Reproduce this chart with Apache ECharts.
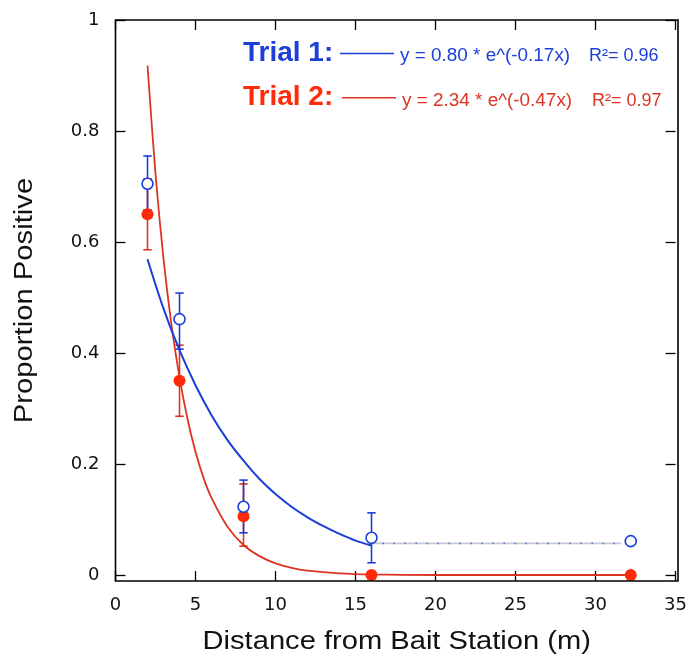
<!DOCTYPE html>
<html><head><meta charset="utf-8">
<script src="https://cdn.jsdelivr.net/npm/echarts@6/dist/echarts.min.js"></script>
<style>html,body{margin:0;padding:0;background:#fff}#c{width:690px;height:659px}</style>
</head><body><div id="c"></div>
<script>
// ---- data ----
const distances  = [2, 4, 8, 16, 32.2];
const trial1Mean = [0.705, 0.461, 0.123, 0.067, 0.061];
const trial1Low  = [0.658, 0.407, 0.076, 0.022, null];
const trial1High = [0.755, 0.508, 0.171, 0.112, null];
const trial2Mean = [0.650, 0.350, 0.106, 0.000, 0.000];
const trial2Low  = [0.586, 0.286, 0.052, null, null];
const trial2High = [0.714, 0.414, 0.164, null, null];

// fitted curves, sampled from the drawn lines
const fit1X = [2, 3, 4, 5, 6, 7, 8, 9, 10, 11, 12, 13, 14, 15, 16];
const fit1Y = [0.569, 0.480, 0.405, 0.342, 0.288, 0.243, 0.206, 0.173, 0.146, 0.123, 0.104, 0.088, 0.074, 0.062, 0.053];
const fit2X = [2, 2.5, 3, 3.5, 4, 4.5, 5, 5.5, 6, 7, 8, 9, 10, 11, 12, 14, 16, 20, 25, 32.2];
const fit2Y = [0.918, 0.723, 0.570, 0.450, 0.356, 0.281, 0.222, 0.175, 0.139, 0.087, 0.054, 0.034, 0.021, 0.013, 0.008, 0.003, 0.001, 0.000, 0.000, 0.000];
const plateau1X = [16, 31.6];
const plateau1Y = [0.057, 0.057];

const legendTrials = ['Trial 1:', 'Trial 2:'];
const legendEquations = ['y = 0.80 * e^(-0.17x)', 'y = 2.34 * e^(-0.47x)'];
const legendR2 = ['R\u00B2= 0.96', 'R\u00B2= 0.97'];
const xTitle = 'Distance from Bait Station (m)';
const yTitle = 'Proportion Positive';

const xMin = 0, xMax = 35, xStep = 5;
const yMin = 0, yMax = 1, yStep = 0.2;

// ---- styling ----
const BLUE = '#1a3fd6', BLUE_T = '#1c3fd8';
const RED = '#dc3524', RED_T = '#ff2a08', RED_DOT = '#ff2a0a';
const FONT = '"Liberation Sans", Arial, Helvetica, sans-serif';
const TICKFONT = '"DejaVu Sans", "Liberation Sans", sans-serif';

const zip = (a, b) => a.map((v, i) => [v, b[i]]);
const errData = (lo, hi) => distances.map((d, i) => [d, lo[i], hi[i]]).filter(r => r[1] != null);

function errRender(color, half) {
  return function (params, api) {
    const x = api.value(0), lo = api.value(1), hi = api.value(2);
    const a = api.coord([x, lo]), b = api.coord([x, hi]);
    const st = { stroke: color, lineWidth: 1.6 };
    return { type: 'group', children: [
      { type: 'line', shape: { x1: a[0], y1: a[1], x2: b[0], y2: b[1] }, style: st },
      { type: 'line', shape: { x1: a[0] - half, y1: a[1], x2: a[0] + half, y2: a[1] }, style: st },
      { type: 'line', shape: { x1: b[0] - half, y1: b[1], x2: b[0] + half, y2: b[1] }, style: st }
    ]};
  };
}

const GL = 115.5, GT = 20, GR = 678, GB = 575, FRAME_B = 581;

const tickStyle = { color: '#000', width: 1.3 };
const hiddenLine = { show: false, onZero: false };
const chart = echarts.init(document.getElementById('c'), null, { renderer: 'canvas' });
chart.setOption({
  backgroundColor: '#fff',
  animation: false,
  grid: { left: GL, top: GT, right: 690 - GR, bottom: 659 - GB, containLabel: false },
  xAxis: [
    { type: 'value', min: xMin, max: xMax, interval: xStep, position: 'bottom', offset: FRAME_B - GB,
      axisLine: hiddenLine, splitLine: { show: false },
      axisTick: { inside: true, length: 10, lineStyle: tickStyle },
      axisLabel: { fontFamily: TICKFONT, fontSize: 18, color: '#111', margin: 15 } },
    { type: 'value', min: xMin, max: xMax, interval: xStep, position: 'top',
      axisLine: hiddenLine, splitLine: { show: false },
      axisTick: { inside: true, length: 10, lineStyle: tickStyle },
      axisLabel: { show: false } }
  ],
  yAxis: [
    { type: 'value', min: yMin, max: yMax, interval: yStep, position: 'left',
      axisLine: hiddenLine, splitLine: { show: false },
      axisTick: { inside: true, length: 10, lineStyle: tickStyle },
      axisLabel: { fontFamily: TICKFONT, fontSize: 18, color: '#111', margin: 16, padding: [0, 0, 5, 0] } },
    { type: 'value', min: yMin, max: yMax, interval: yStep, position: 'right',
      axisLine: hiddenLine, splitLine: { show: false },
      axisTick: { inside: true, length: 10, lineStyle: tickStyle },
      axisLabel: { show: false } }
  ],
  series: [
    { type: 'custom', renderItem: errRender(RED, 4.2), data: errData(trial2Low, trial2High), z: 2, silent: true },
    { type: 'custom', renderItem: errRender(BLUE, 4.2), data: errData(trial1Low, trial1High), z: 3, silent: true },
    { type: 'line', data: zip(fit2X, fit2Y), smooth: 0.3, showSymbol: false, lineStyle: { color: RED, width: 1.8 }, z: 4, silent: true },
    { type: 'line', data: zip(plateau1X, plateau1Y), showSymbol: false, lineStyle: { color: '#c4c8d4', width: 1.6 }, z: 5, silent: true },
    { type: 'line', data: zip(plateau1X, plateau1Y), showSymbol: false, lineStyle: { color: '#5a74d8', width: 1.6, type: [1.5, 9.5] }, z: 5, silent: true },
    { type: 'line', data: zip(fit1X, fit1Y), smooth: 0.3, showSymbol: false, lineStyle: { color: BLUE, width: 2 }, z: 6, silent: true },
    { type: 'scatter', data: zip(distances, trial2Mean), symbol: 'circle', symbolSize: 12,
      itemStyle: { color: RED_DOT, opacity: 1 }, z: 7, silent: true },
    { type: 'scatter', data: zip(distances, trial1Mean), symbol: 'circle', symbolSize: 11,
      itemStyle: { color: '#fff', borderColor: BLUE, borderWidth: 1.6, opacity: 1 }, z: 8, silent: true }
  ],
  graphic: [
    { type: 'rect', shape: { x: GL, y: GT, width: GR - GL, height: FRAME_B - GT },
      style: { fill: 'none', stroke: '#000', lineWidth: 1.6 }, z: 100, silent: true },
    // axis titles
    { type: 'text', x: (GL + GR) / 2, y: 642, scaleX: 1.12,
      style: { text: xTitle, font: '26px ' + FONT, fill: '#111', align: 'center', verticalAlign: 'middle' } },
    { type: 'text', x: 25, y: 300.5, rotation: Math.PI / 2, scaleX: 1.17,
      style: { text: yTitle, font: '25px ' + FONT, fill: '#111', align: 'center', verticalAlign: 'middle' } },
    // legend
    { type: 'text', x: 243, y: 53, style: { text: legendTrials[0], font: 'bold 28px ' + FONT, fill: BLUE_T, verticalAlign: 'middle' } },
    { type: 'line', shape: { x1: 340, y1: 53.5, x2: 394, y2: 53.5 }, style: { stroke: BLUE, lineWidth: 1.5 } },
    { type: 'text', x: 400, y: 56.5, scaleX: 1.05, style: { text: legendEquations[0], font: '18px ' + FONT, fill: BLUE_T, verticalAlign: 'middle' } },
    { type: 'text', x: 589, y: 56.5, style: { text: legendR2[0], font: '18px ' + FONT, fill: BLUE_T, verticalAlign: 'middle' } },
    { type: 'text', x: 243, y: 97.5, style: { text: legendTrials[1], font: 'bold 28px ' + FONT, fill: RED_T, verticalAlign: 'middle' } },
    { type: 'line', shape: { x1: 342, y1: 97.7, x2: 396, y2: 97.7 }, style: { stroke: RED, lineWidth: 1.5 } },
    { type: 'text', x: 402, y: 101.3, scaleX: 1.05, style: { text: legendEquations[1], font: '18px ' + FONT, fill: RED, verticalAlign: 'middle' } },
    { type: 'text', x: 592, y: 101.3, style: { text: legendR2[1], font: '18px ' + FONT, fill: RED, verticalAlign: 'middle' } }
  ]
});
</script></body></html>
